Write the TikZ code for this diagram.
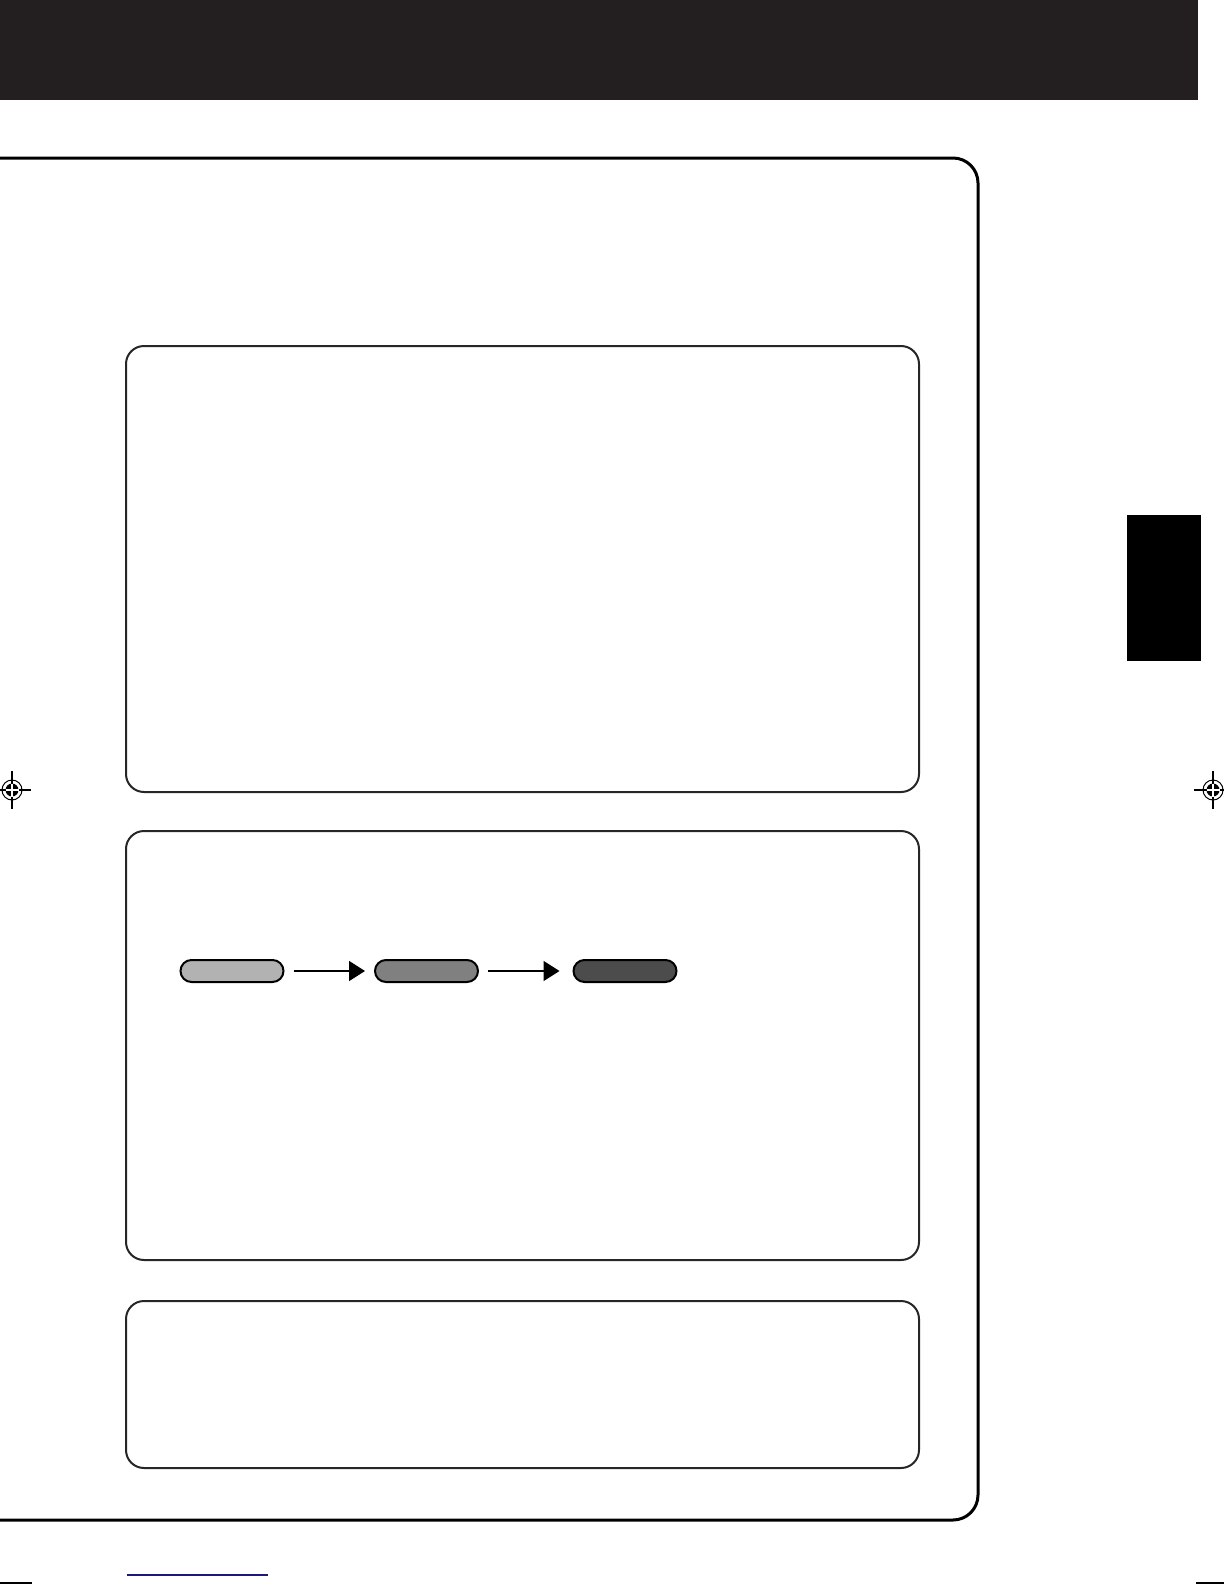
\documentclass[tikz,border=0pt]{standalone}
\usetikzlibrary{calc,positioning,arrows.meta}
\newcommand{\tandareg}[1]
	{
	\begin{scope}[shift={(#1)}]
	\draw[line width=0.6pt] (-19,0) -- (19,0) (0,-19) -- (0,19);
	\draw[line width=0.5pt] (0,0) circle[radius=10];
	\fill (0,0) circle[radius=6.5];
	\draw[white,line width=0.7pt] (-6.5,0) -- (6.5,0) (0,-6.5) -- (0,6.5);
	\end{scope}
	}
\tikzset{
	kotak/.style={draw=black!85,line width=1pt,rounded corners=9pt},
	pil/.style={draw=black,line width=1pt,rounded corners=5.5pt,minimum width=51.5pt,minimum height=11pt,inner sep=0pt},
	panah/.style={-{Triangle[length=8pt,width=10pt]},line width=0.7pt,shorten <=4.5pt,shorten >=4.5pt}
}

\begin{document}
\begin{tikzpicture}[x=0.5pt,y=-0.5pt]
\useasboundingbox (0,0) rectangle (1224,1584);

% pita hitam atas dan tab samping
\fill[fill={rgb,255:red,35;green,31;blue,32}] (0,0) rectangle (1198,100);
\fill[black] (1127,515) rectangle (1201,661);

% bingkai besar
\draw[line width=1.5pt,rounded corners=12.5pt] (0,158) -- (978,158) -- (978,1520) -- (0,1520);

% kotak-kotak dalam
\draw[kotak] (126,346) rectangle (919,792);
\draw[kotak] (126,831) rectangle (919,1260);
\draw[kotak] (126,1301) rectangle (919,1468);

% tiga pil abu-abu
\node[pil,fill=black!30] (pilA) at (232,971) {};
\node[pil,fill=black!50] (pilB) at (426.5,971) {};
\node[pil,fill=black!70] (pilC) at (625,971) {};
\draw[panah] (pilA) -- (pilB);
\draw[panah,shorten >=6.5pt] (pilB) -- (pilC);

% tanda registrasi
\coordinate (regkiri) at (12,790);
\coordinate (regkanan) at (1213,790);
\tandareg{regkiri}
\tandareg{regkanan}

% garis biru dan tanda potong bawah
\coordinate (birua) at (127,1575);
\coordinate (birub) at (268,1575);
\draw[line width=1pt,color={rgb,255:red,26;green,26;blue,120}] (birua) -- (birub);
\coordinate (potonga) at (0,1583);
\coordinate (potongb) at (32,1583);
\coordinate (potongc) at (1196,1583);
\coordinate (potongd) at (1224,1583);
\draw[line width=0.8pt] (potonga) -- (potongb) (potongc) -- (potongd);

\end{tikzpicture}
\end{document}
